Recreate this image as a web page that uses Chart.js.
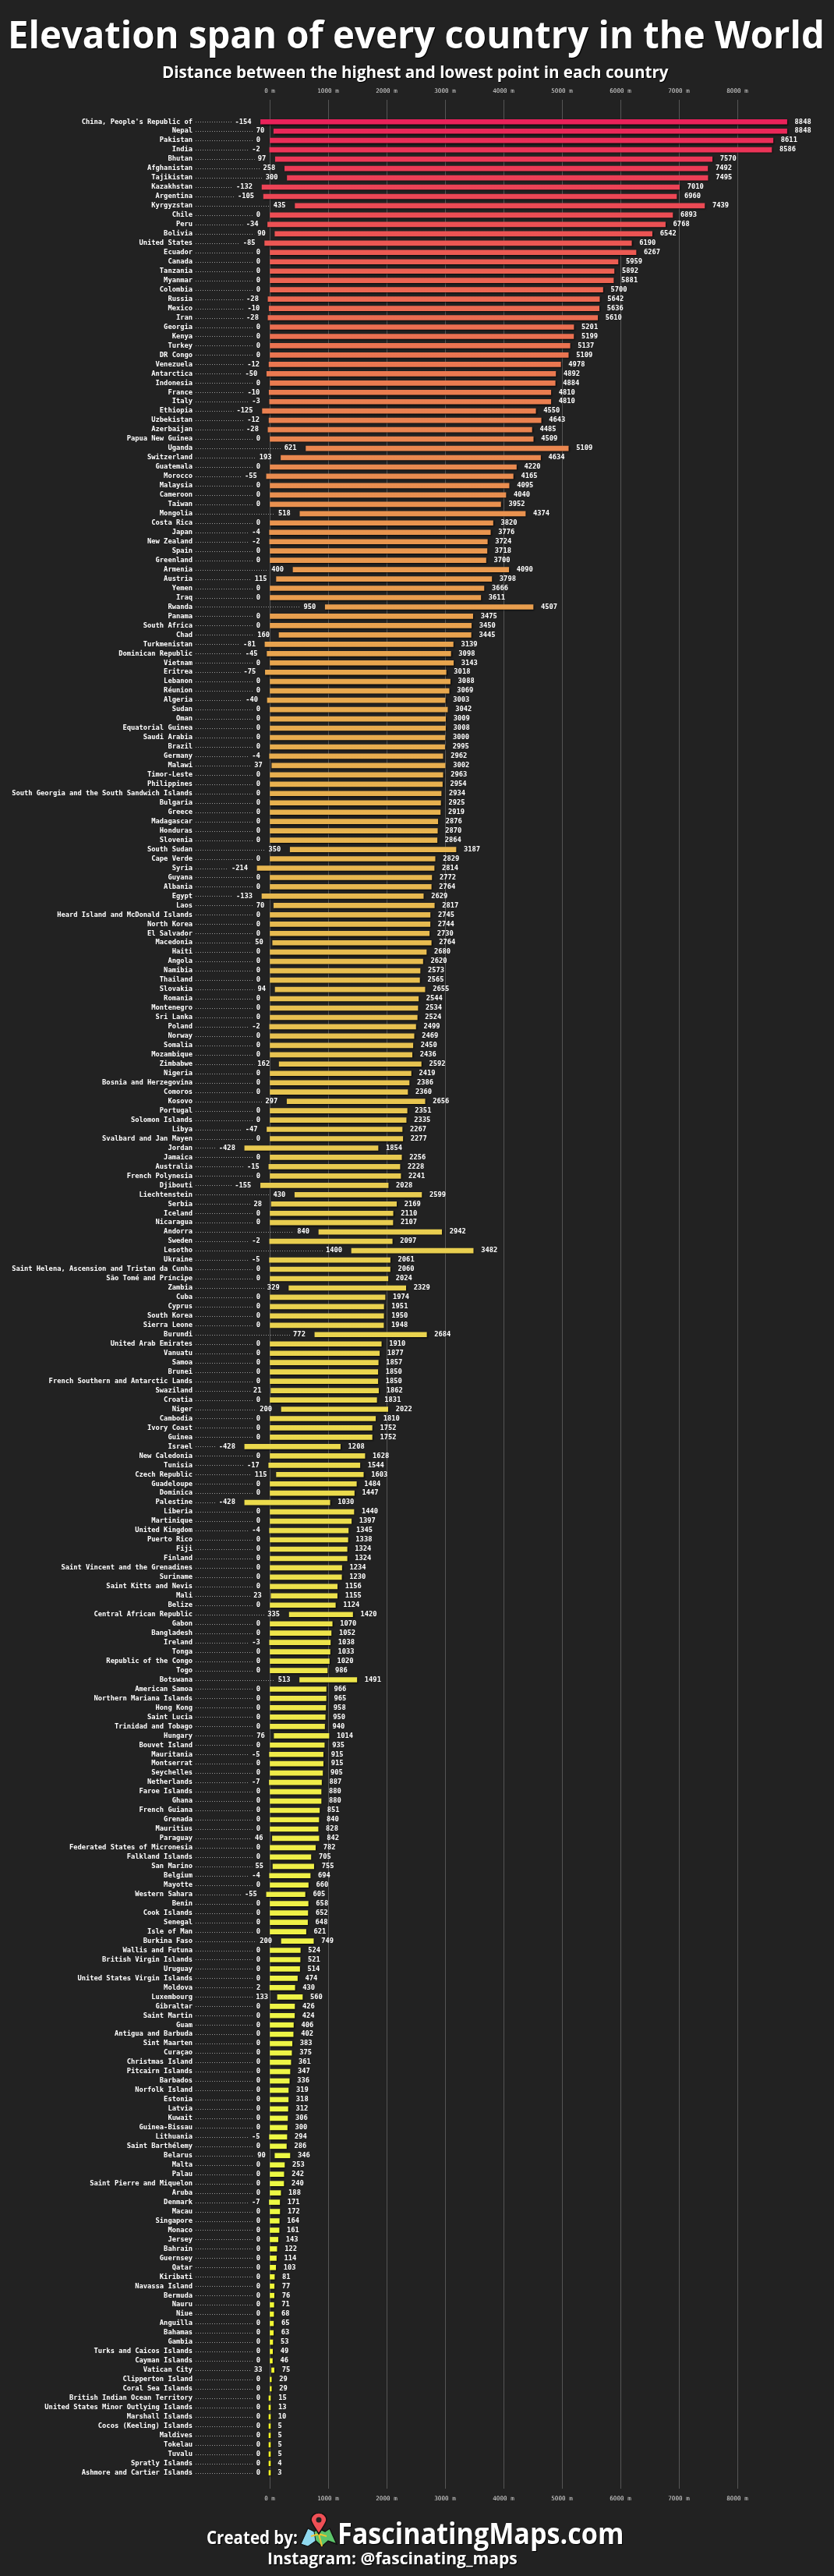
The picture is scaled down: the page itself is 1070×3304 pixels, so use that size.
<!DOCTYPE html>
<html>
<head>
<meta charset="utf-8">
<title>Elevation span of every country in the World</title>
<script src="https://cdn.jsdelivr.net/npm/chart.js@4"></script>
<style>
    html, body { margin: 0; padding: 0; background: #222222; }
    body { position: relative; width: 1070px; height: 3304px; overflow: hidden; font-family: "Open Sans", sans-serif; color: #fff; }
    canvas { position: absolute; left: 0; top: 0; display: block; }
    .txt { position: absolute; white-space: nowrap; font-weight: 700; line-height: 1; transform-origin: left top; text-shadow: 1px 1px 1px #000; }
    #title { left: 10px; top: 19px; font-size: 49px; }
    #subtitle { left: 208px; top: 82px; font-size: 21px; }
    #createdBy { left: 265px; top: 3243px; font-size: 23px; }
    #site { left: 433px; top: 3230px; font-size: 37px; }
    #insta { left: 343px; top: 3271px; font-size: 21px; }
    #pin { position: absolute; left: 385px; top: 3223px; }
</style>
</head>
<body>
<canvas id="spanChart" width="1070" height="3304"></canvas>
<div class="txt" id="title">Elevation span of every country in the World</div>
<div class="txt" id="subtitle">Distance between the highest and lowest point in each country</div>
<div class="txt" id="createdBy">Created by:</div>
<svg id="pin" width="48" height="44" viewBox="0 0 48 44">
    <path d="M1 40 L10 20 L18 24 L24 20 L32 24 L38 20 L47 40 L36 36 L28 43 L20 36 L10 43 Z" fill="#5cc46a" stroke="#111" stroke-width="1.5"/>
    <path d="M10 20 L18 24 L20 36 L10 43 L1 40 Z" fill="#8fd8ee" stroke="#111" stroke-width="1"/>
    <path d="M14 30 L24 27 L34 30 M24 27 L28 43" fill="none" stroke="#f2c230" stroke-width="2"/>
    <path d="M24 27 C17 16 14 12 14 9 A10 9 0 0 1 34 9 C34 12 31 16 24 27 Z" fill="#ef4f55" stroke="#111" stroke-width="1.5"/>
    <circle cx="24" cy="9" r="3.5" fill="#222"/>
</svg>
<div class="txt" id="site">FascinatingMaps.com</div>
<div class="txt" id="insta">Instagram: @fascinating_maps</div>

<script>
const countries = [
    "China, People's Republic of", "Nepal", "Pakistan", "India", "Bhutan", "Afghanistan", "Tajikistan", "Kazakhstan", "Argentina", "Kyrgyzstan",
    "Chile", "Peru", "Bolivia", "United States", "Ecuador", "Canada", "Tanzania", "Myanmar", "Colombia", "Russia",
    "Mexico", "Iran", "Georgia", "Kenya", "Turkey", "DR Congo", "Venezuela", "Antarctica", "Indonesia", "France",
    "Italy", "Ethiopia", "Uzbekistan", "Azerbaijan", "Papua New Guinea", "Uganda", "Switzerland", "Guatemala", "Morocco", "Malaysia",
    "Cameroon", "Taiwan", "Mongolia", "Costa Rica", "Japan", "New Zealand", "Spain", "Greenland", "Armenia", "Austria",
    "Yemen", "Iraq", "Rwanda", "Panama", "South Africa", "Chad", "Turkmenistan", "Dominican Republic", "Vietnam", "Eritrea",
    "Lebanon", "Réunion", "Algeria", "Sudan", "Oman", "Equatorial Guinea", "Saudi Arabia", "Brazil", "Germany", "Malawi",
    "Timor-Leste", "Philippines", "South Georgia and the South Sandwich Islands", "Bulgaria", "Greece", "Madagascar", "Honduras", "Slovenia", "South Sudan", "Cape Verde",
    "Syria", "Guyana", "Albania", "Egypt", "Laos", "Heard Island and McDonald Islands", "North Korea", "El Salvador", "Macedonia", "Haiti",
    "Angola", "Namibia", "Thailand", "Slovakia", "Romania", "Montenegro", "Sri Lanka", "Poland", "Norway", "Somalia",
    "Mozambique", "Zimbabwe", "Nigeria", "Bosnia and Herzegovina", "Comoros", "Kosovo", "Portugal", "Solomon Islands", "Libya", "Svalbard and Jan Mayen",
    "Jordan", "Jamaica", "Australia", "French Polynesia", "Djibouti", "Liechtenstein", "Serbia", "Iceland", "Nicaragua", "Andorra",
    "Sweden", "Lesotho", "Ukraine", "Saint Helena, Ascension and Tristan da Cunha", "São Tomé and Príncipe", "Zambia", "Cuba", "Cyprus", "South Korea", "Sierra Leone",
    "Burundi", "United Arab Emirates", "Vanuatu", "Samoa", "Brunei", "French Southern and Antarctic Lands", "Swaziland", "Croatia", "Niger", "Cambodia",
    "Ivory Coast", "Guinea", "Israel", "New Caledonia", "Tunisia", "Czech Republic", "Guadeloupe", "Dominica", "Palestine", "Liberia",
    "Martinique", "United Kingdom", "Puerto Rico", "Fiji", "Finland", "Saint Vincent and the Grenadines", "Suriname", "Saint Kitts and Nevis", "Mali", "Belize",
    "Central African Republic", "Gabon", "Bangladesh", "Ireland", "Tonga", "Republic of the Congo", "Togo", "Botswana", "American Samoa", "Northern Mariana Islands",
    "Hong Kong", "Saint Lucia", "Trinidad and Tobago", "Hungary", "Bouvet Island", "Mauritania", "Montserrat", "Seychelles", "Netherlands", "Faroe Islands",
    "Ghana", "French Guiana", "Grenada", "Mauritius", "Paraguay", "Federated States of Micronesia", "Falkland Islands", "San Marino", "Belgium", "Mayotte",
    "Western Sahara", "Benin", "Cook Islands", "Senegal", "Isle of Man", "Burkina Faso", "Wallis and Futuna", "British Virgin Islands", "Uruguay", "United States Virgin Islands",
    "Moldova", "Luxembourg", "Gibraltar", "Saint Martin", "Guam", "Antigua and Barbuda", "Sint Maarten", "Curaçao", "Christmas Island", "Pitcairn Islands",
    "Barbados", "Norfolk Island", "Estonia", "Latvia", "Kuwait", "Guinea-Bissau", "Lithuania", "Saint Barthélemy", "Belarus", "Malta",
    "Palau", "Saint Pierre and Miquelon", "Aruba", "Denmark", "Macau", "Singapore", "Monaco", "Jersey", "Bahrain", "Guernsey",
    "Qatar", "Kiribati", "Navassa Island", "Bermuda", "Nauru", "Niue", "Anguilla", "Bahamas", "Gambia", "Turks and Caicos Islands",
    "Cayman Islands", "Vatican City", "Clipperton Island", "Coral Sea Islands", "British Indian Ocean Territory", "United States Minor Outlying Islands", "Marshall Islands", "Cocos (Keeling) Islands", "Maldives", "Tokelau",
    "Tuvalu", "Spratly Islands", "Ashmore and Cartier Islands"
];

const lows = [
    -154, 70, 0, -2, 97, 258, 300, -132, -105, 435,
    0, -34, 90, -85, 0, 0, 0, 0, 0, -28,
    -10, -28, 0, 0, 0, 0, -12, -50, 0, -10,
    -3, -125, -12, -28, 0, 621, 193, 0, -55, 0,
    0, 0, 518, 0, -4, -2, 0, 0, 400, 115,
    0, 0, 950, 0, 0, 160, -81, -45, 0, -75,
    0, 0, -40, 0, 0, 0, 0, 0, -4, 37,
    0, 0, 0, 0, 0, 0, 0, 0, 350, 0,
    -214, 0, 0, -133, 70, 0, 0, 0, 50, 0,
    0, 0, 0, 94, 0, 0, 0, -2, 0, 0,
    0, 162, 0, 0, 0, 297, 0, 0, -47, 0,
    -428, 0, -15, 0, -155, 430, 28, 0, 0, 840,
    -2, 1400, -5, 0, 0, 329, 0, 0, 0, 0,
    772, 0, 0, 0, 0, 0, 21, 0, 200, 0,
    0, 0, -428, 0, -17, 115, 0, 0, -428, 0,
    0, -4, 0, 0, 0, 0, 0, 0, 23, 0,
    335, 0, 0, -3, 0, 0, 0, 513, 0, 0,
    0, 0, 0, 76, 0, -5, 0, 0, -7, 0,
    0, 0, 0, 0, 46, 0, 0, 55, -4, 0,
    -55, 0, 0, 0, 0, 200, 0, 0, 0, 0,
    2, 133, 0, 0, 0, 0, 0, 0, 0, 0,
    0, 0, 0, 0, 0, 0, -5, 0, 90, 0,
    0, 0, 0, -7, 0, 0, 0, 0, 0, 0,
    0, 0, 0, 0, 0, 0, 0, 0, 0, 0,
    0, 33, 0, 0, 0, 0, 0, 0, 0, 0,
    0, 0, 0
];

const highs = [
    8848, 8848, 8611, 8586, 7570, 7492, 7495, 7010, 6960, 7439,
    6893, 6768, 6542, 6190, 6267, 5959, 5892, 5881, 5700, 5642,
    5636, 5610, 5201, 5199, 5137, 5109, 4978, 4892, 4884, 4810,
    4810, 4550, 4643, 4485, 4509, 5109, 4634, 4220, 4165, 4095,
    4040, 3952, 4374, 3820, 3776, 3724, 3718, 3700, 4090, 3798,
    3666, 3611, 4507, 3475, 3450, 3445, 3139, 3098, 3143, 3018,
    3088, 3069, 3003, 3042, 3009, 3008, 3000, 2995, 2962, 3002,
    2963, 2954, 2934, 2925, 2919, 2876, 2870, 2864, 3187, 2829,
    2814, 2772, 2764, 2629, 2817, 2745, 2744, 2730, 2764, 2680,
    2620, 2573, 2565, 2655, 2544, 2534, 2524, 2499, 2469, 2450,
    2436, 2592, 2419, 2386, 2360, 2656, 2351, 2335, 2267, 2277,
    1854, 2256, 2228, 2241, 2028, 2599, 2169, 2110, 2107, 2942,
    2097, 3482, 2061, 2060, 2024, 2329, 1974, 1951, 1950, 1948,
    2684, 1910, 1877, 1857, 1850, 1850, 1862, 1831, 2022, 1810,
    1752, 1752, 1208, 1628, 1544, 1603, 1484, 1447, 1030, 1440,
    1397, 1345, 1338, 1324, 1324, 1234, 1230, 1156, 1155, 1124,
    1420, 1070, 1052, 1038, 1033, 1020, 986, 1491, 966, 965,
    958, 950, 940, 1014, 935, 915, 915, 905, 887, 880,
    880, 851, 840, 828, 842, 782, 705, 755, 694, 660,
    605, 658, 652, 648, 621, 749, 524, 521, 514, 474,
    430, 560, 426, 424, 406, 402, 383, 375, 361, 347,
    336, 319, 318, 312, 306, 300, 294, 286, 346, 253,
    242, 240, 188, 171, 172, 164, 161, 143, 122, 114,
    103, 81, 77, 76, 71, 68, 65, 63, 53, 49,
    46, 75, 29, 29, 15, 13, 10, 5, 5, 5,
    5, 4, 3
];

const tickValues = [0, 1000, 2000, 3000, 4000, 5000, 6000, 7000, 8000];

const MONO = '"DejaVu Sans Mono", monospace';

const canvas = document.getElementById('spanChart');
const ctx = canvas.getContext('2d');

// top to bottom colour ramp of the bars
const barGradient = ctx.createLinearGradient(0, 150, 0, 3178);
barGradient.addColorStop(0, '#e91e5a');
barGradient.addColorStop(0.015, '#ec3558');
barGradient.addColorStop(0.04, '#ec4c54');
barGradient.addColorStop(0.07, '#ec6452');
barGradient.addColorStop(0.11, '#ea7a50');
barGradient.addColorStop(0.17, '#e9934f');
barGradient.addColorStop(0.24, '#e8a84e');
barGradient.addColorStop(0.34, '#e7ba50');
barGradient.addColorStop(0.46, '#e8cc50');
barGradient.addColorStop(0.6, '#ecde4c');
barGradient.addColorStop(0.72, '#f0ee48');
barGradient.addColorStop(0.88, '#ecf944');
barGradient.addColorStop(1, '#fafa20');

// soft dark edge under the bars
const barShadow = {
    id: 'barShadow',
    beforeDatasetDraw(chart) {
        const c = chart.ctx;
        c.save();
        c.shadowColor = 'rgba(0,0,0,0.75)';
        c.shadowBlur = 2;
        c.shadowOffsetX = 1;
        c.shadowOffsetY = 1;
    },
    afterDatasetDraw(chart) {
        chart.ctx.restore();
    }
};

// dotted leaders plus the low and high labels next to each bar
const rowLabels = {
    id: 'rowLabels',
    afterDatasetsDraw(chart) {
        const c = chart.ctx;
        const xs = chart.scales.x;
        const ys = chart.scales.y;
        c.save();
        c.font = `bold 8.75px ${MONO}`;
        c.textBaseline = 'middle';
        countries.forEach((name, i) => {
            const y = ys.getPixelForValue(i);
            const lowText = String(lows[i]);
            const lowRight = xs.getPixelForValue(lows[i]) - 12;
            const lowLeft = lowRight - c.measureText(lowText).width;

            c.strokeStyle = '#999999';
            c.lineWidth = 1;
            c.setLineDash([1, 2]);
            c.beginPath();
            c.moveTo(251, Math.round(y) + 0.5);
            c.lineTo(lowLeft - 4, Math.round(y) + 0.5);
            c.stroke();

            c.fillStyle = '#ffffff';
            c.textAlign = 'right';
            c.fillText(lowText, lowRight, y);
            c.textAlign = 'left';
            c.fillText(String(highs[i]), xs.getPixelForValue(highs[i]) + 10, y);
        });
        c.restore();
    }
};

function fixTicks(scale) {
    scale.ticks = tickValues.map(v => ({ value: v }));
}

new Chart(ctx, {
    type: 'bar',
    data: {
        datasets: [{
            data: countries.map((_, i) => ({ x: [lows[i], highs[i]], y: i })),
            backgroundColor: barGradient,
            borderWidth: 0,
            barThickness: 6,
            minBarLength: 2
        }]
    },
    plugins: [barShadow, rowLabels],
    options: {
        indexAxis: 'y',
        responsive: false,
        animation: false,
        devicePixelRatio: 1,
        layout: { padding: { left: 0, right: 34, top: 0, bottom: 0 } },
        plugins: { legend: { display: false }, tooltip: { enabled: false } },
        scales: {
            x: {
                type: 'linear',
                position: 'bottom',
                min: -800,
                max: 9200,
                afterBuildTicks: fixTicks,
                afterFit: s => { s.height = 112; },
                grid: { color: '#555555', lineWidth: 1, drawTicks: false },
                border: { display: false },
                ticks: {
                    color: '#d8d8d8',
                    font: { family: MONO, size: 7.6 },
                    padding: 8,
                    maxRotation: 0,
                    autoSkip: false,
                    callback: v => `${v} m`
                }
            },
            xTop: {
                type: 'linear',
                axis: 'x',
                position: 'top',
                min: -800,
                max: 9200,
                afterBuildTicks: fixTicks,
                afterFit: s => { s.height = 128; },
                grid: { display: false, drawTicks: false },
                border: { display: false },
                ticks: {
                    color: '#d8d8d8',
                    font: { family: MONO, size: 7.6 },
                    padding: 6,
                    maxRotation: 0,
                    autoSkip: false,
                    callback: v => `${v} m`
                }
            },
            y: {
                type: 'linear',
                reverse: true,
                min: -1.856,
                max: 253.2,
                afterBuildTicks: s => { s.ticks = countries.map((_, i) => ({ value: i })); },
                afterFit: s => { s.width = 286; },
                grid: { display: false, drawTicks: false },
                border: { display: false },
                ticks: {
                    color: '#ffffff',
                    font: { family: MONO, size: 8.75, weight: 'bold' },
                    padding: 39,
                    autoSkip: false,
                    callback: v => countries[v]
                }
            }
        }
    }
});

// squeeze the heading lines to the width they have in the picture
function fitText(id, target) {
    const el = document.getElementById(id);
    el.style.transform = `scaleX(${target / el.offsetWidth})`;
}
fitText('title', 1048);
fitText('subtitle', 650);
fitText('createdBy', 117);
fitText('site', 367);
fitText('insta', 321);
</script>
</body>
</html>
